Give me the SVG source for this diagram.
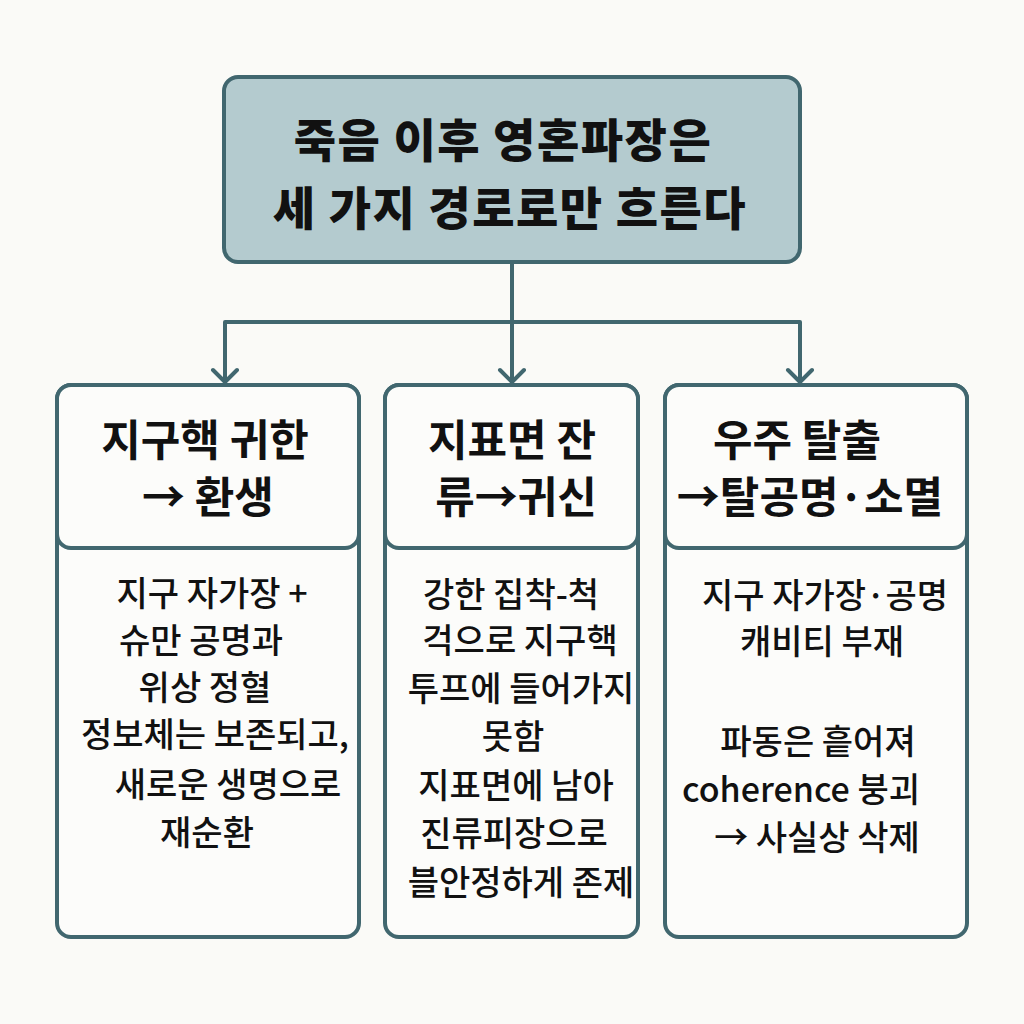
<svg xmlns="http://www.w3.org/2000/svg" width="1024" height="1024" viewBox="0 0 1024 1024">
<defs>
<style>
.bg{fill:#fafaf7}
.box{fill:#fcfcfa;stroke:#41676f;stroke-width:4}
.top{fill:#b4cbcf;stroke:#41676f;stroke-width:4}
.hd{fill:#fcfcfa;stroke:#41676f;stroke-width:4}
.title{font-family:"Noto Sans CJK KR","Noto Sans",sans-serif;font-weight:900;font-size:46px;letter-spacing:1.5px;fill:#111;text-anchor:middle}
.h{font-family:"Noto Sans CJK KR","Noto Sans",sans-serif;font-weight:700;font-size:43px;fill:#111;text-anchor:middle}
.b{font-family:"Noto Sans CJK KR","Noto Sans",sans-serif;font-weight:500;font-size:34px;fill:#111;text-anchor:middle}
.c{fill:none;stroke:#41676f;stroke-width:4;stroke-linecap:round;stroke-linejoin:round}
</style>
</defs>
<rect class="bg" x="0" y="0" width="1024" height="1024"/>
<g id="connectors">
<path class="c" d="M512 262 V322 M225 322 H800 M225 322 V382 M512 322 V382 M800 322 V382"/>
<path class="c" d="M213 370 L225 382 L237 370 M500 370 L512 382 L524 370 M788 370 L800 382 L812 370"/>
</g>
<g id="title">
<rect class="top" x="224" y="77" width="576" height="185" rx="14"/>
<text class="title" x="503" y="157">죽음 이후 영혼파장은</text>
<text class="title" x="510" y="225">세 가지 경로로만 흐른다</text>
</g>
<g id="node-left">
<rect class="box" x="57" y="385" width="302" height="552" rx="14"/>
<rect class="hd" x="57" y="385" width="302" height="163" rx="14"/>
<text class="h" x="205" y="456">지구핵 귀한</text>
<text class="h" x="208" y="513">→ 환생</text>
<text class="b" x="212" y="606">지구 자가장 +</text>
<text class="b" x="201" y="653">슈만 공명과</text>
<text class="b" x="205" y="700">위상 정혈</text>
<text class="b" x="215" y="747">정보체는 보존되고,</text>
<text class="b" x="228" y="797">새로운 생명으로</text>
<text class="b" x="207" y="845">재순환</text>
</g>
<g id="node-middle">
<rect class="box" x="385" y="385" width="253" height="552" rx="14"/>
<rect class="hd" x="385" y="385" width="253" height="163" rx="14"/>
<text class="h" x="512" y="456">지표면 잔</text>
<text class="h" x="516" y="513">류→귀신</text>
<text class="b" x="511" y="607">강한 집착-척</text>
<text class="b" x="520" y="653">걱으로 지구핵</text>
<text class="b" x="521" y="701">투프에 들어가지</text>
<text class="b" x="513" y="749">못함</text>
<text class="b" x="516" y="798">지표면에 남아</text>
<text class="b" x="514" y="846">진류피장으로</text>
<text class="b" x="521" y="895">블안정하게 존제</text>
</g>
<g id="node-right">
<rect class="box" x="665" y="385" width="302" height="552" rx="14"/>
<rect class="hd" x="665" y="385" width="302" height="163" rx="14"/>
<text class="h" x="797" y="456">우주 탈출</text>
<text class="h" x="810" y="513">→탈공명·소멸</text>
<text class="b" x="825" y="608">지구 자가장·공명</text>
<text class="b" x="822" y="654">캐비티 부재</text>
<text class="b" x="818" y="754">파동은 흩어져</text>
<text class="b" x="801" y="802">coherence 붕괴</text>
<text class="b" x="817" y="850">→ 사실상 삭제</text>
</g>
</svg>
